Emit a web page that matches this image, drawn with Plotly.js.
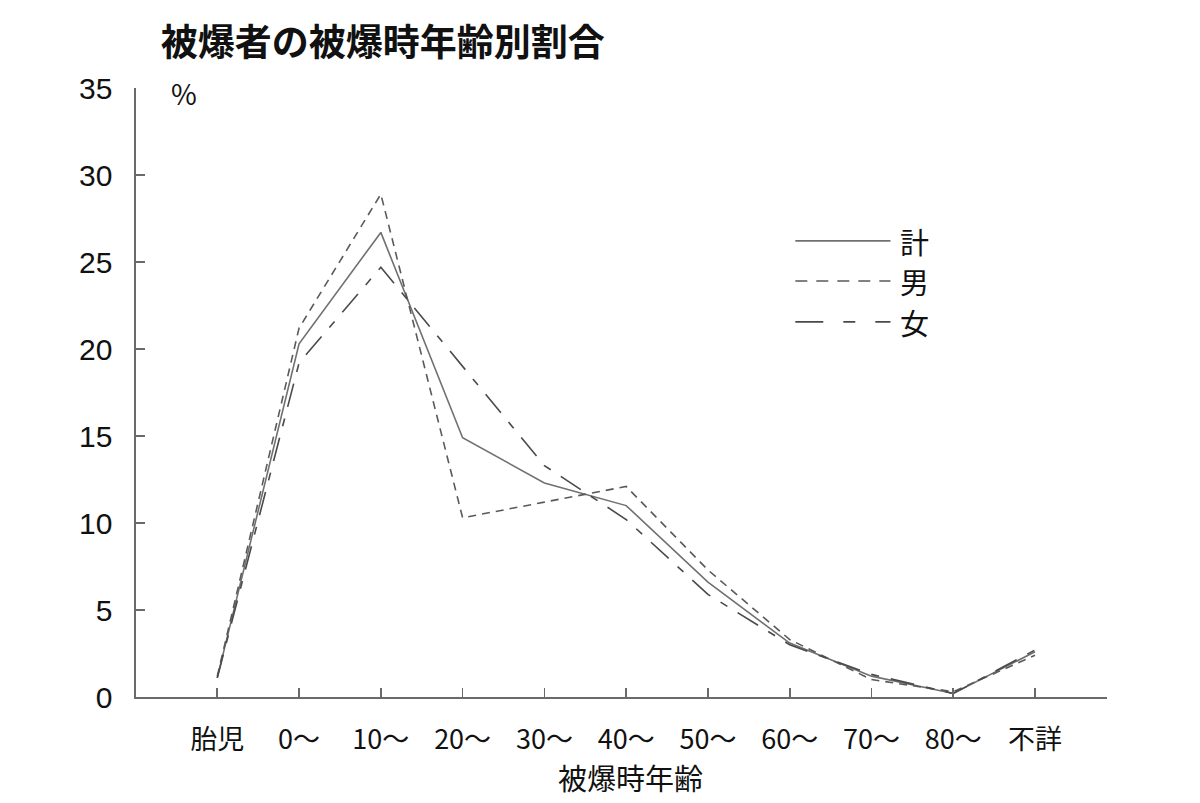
<!DOCTYPE html>
<html>
<head>
<meta charset="utf-8">
<script src="https://cdn.plot.ly/plotly-3.0.1.min.js"></script>
<style>
  body { margin: 0; background: #ffffff; }
  #chart { width: 1200px; height: 803px; }
</style>
</head>
<body>
<div id="chart"></div>
<script>
// 被爆時年齢の区分
const ageGroups = ["胎児", "0〜", "10〜", "20〜", "30〜", "40〜", "50〜", "60〜", "70〜", "80〜", "不詳"];

// 割合 (%)
const totalPct  = [1.1, 20.3, 26.7, 14.9, 12.3, 11.0, 6.6, 3.1, 1.2, 0.2, 2.6];
const malePct   = [1.2, 21.2, 28.9, 10.3, 11.2, 12.1, 7.3, 3.3, 1.0, 0.3, 2.4];
const femalePct = [1.1, 19.2, 24.7, 19.0, 13.3, 10.2, 5.9, 3.0, 1.3, 0.2, 2.7];

const yTicks = [0, 5, 10, 15, 20, 25, 30, 35];

const cjk = '"Noto Sans CJK JP", "Noto Sans", sans-serif';
const numFont = '"Liberation Sans Narrow", "Liberation Sans", sans-serif';

const femaleDash = "24px,12px,8px,12px";
const maleDash = "8px,6px";

const traces = [
  { x: ageGroups, y: totalPct, name: "計", mode: "lines",
    line: { color: "#707070", width: 1.6 } },
  { x: ageGroups, y: malePct, name: "男", mode: "lines",
    line: { color: "#5a5a5a", width: 1.6, dash: maleDash } },
  { x: ageGroups, y: femalePct, name: "女", mode: "lines",
    line: { color: "#4a4a4a", width: 1.6, dash: femaleDash } }
];

// legend drawn by hand so the sample lines are long like the original
const legendNames = ["計", "男", "女"];
const legendDash = ["solid", "12px,9px", "28px,20px,12px,20px"];
const legendColor = ["#707070", "#5a5a5a", "#4a4a4a"];
const legendY = [0.749, 0.683, 0.616];

const shapes = [];
const annotations = [];
legendNames.forEach((name, i) => {
  shapes.push({
    type: "line", xref: "paper", yref: "paper",
    x0: 0.679, x1: 0.777, y0: legendY[i], y1: legendY[i],
    line: { color: legendColor[i], width: 1.6, dash: legendDash[i] }
  });
  annotations.push({
    xref: "paper", yref: "paper", x: 0.785, y: legendY[i],
    xanchor: "left", yanchor: "middle", showarrow: false,
    text: name, font: { family: cjk, size: 29, color: "#111111" }
  });
});

annotations.push({
  xref: "paper", yref: "paper", x: 0.034, y: 0.992,
  xanchor: "left", yanchor: "middle", showarrow: false,
  text: "%", font: { family: cjk, size: 28, color: "#111111" }
});

// x axis title
annotations.push({
  xref: "paper", yref: "paper", x: 0.509, y: -0.131,
  xanchor: "center", yanchor: "middle", showarrow: false,
  text: "被爆時年齢", font: { family: cjk, size: 29, color: "#111111" }
});

const layout = {
  width: 1200,
  height: 803,
  paper_bgcolor: "#ffffff",
  plot_bgcolor: "#ffffff",
  margin: { l: 136, r: 93, t: 88, b: 106 },
  showlegend: false,
  title: {
    text: "<b>被爆者の被爆時年齢別割合</b>",
    font: { family: cjk, size: 37, color: "#111111" },
    xref: "container", yref: "container",
    x: 0.134, xanchor: "left",
    y: 0.947, yanchor: "middle"
  },
  xaxis: {
    type: "category",
    range: [-0.994, 10.88],
    showline: true, linecolor: "#6a6a6a", linewidth: 1.6,
    ticks: "inside", ticklen: 9, tickwidth: 1.6, tickcolor: "#6a6a6a",
    showgrid: false, zeroline: false,
    tickfont: { family: cjk, size: 27, color: "#111111" },
    ticklabelstandoff: 18
  },
  yaxis: {
    range: [0, 35],
    tickvals: yTicks,
    showline: true, linecolor: "#6a6a6a", linewidth: 1.6,
    ticks: "inside", ticklen: 9, tickwidth: 1.6, tickcolor: "#6a6a6a",
    showgrid: false, zeroline: false,
    tickfont: { family: numFont, size: 30, color: "#111111" },
    ticklabelstandoff: 16
  },
  shapes: shapes,
  annotations: annotations
};

Plotly.newPlot("chart", traces, layout, { displayModeBar: false, staticPlot: true });
</script>
</body>
</html>
